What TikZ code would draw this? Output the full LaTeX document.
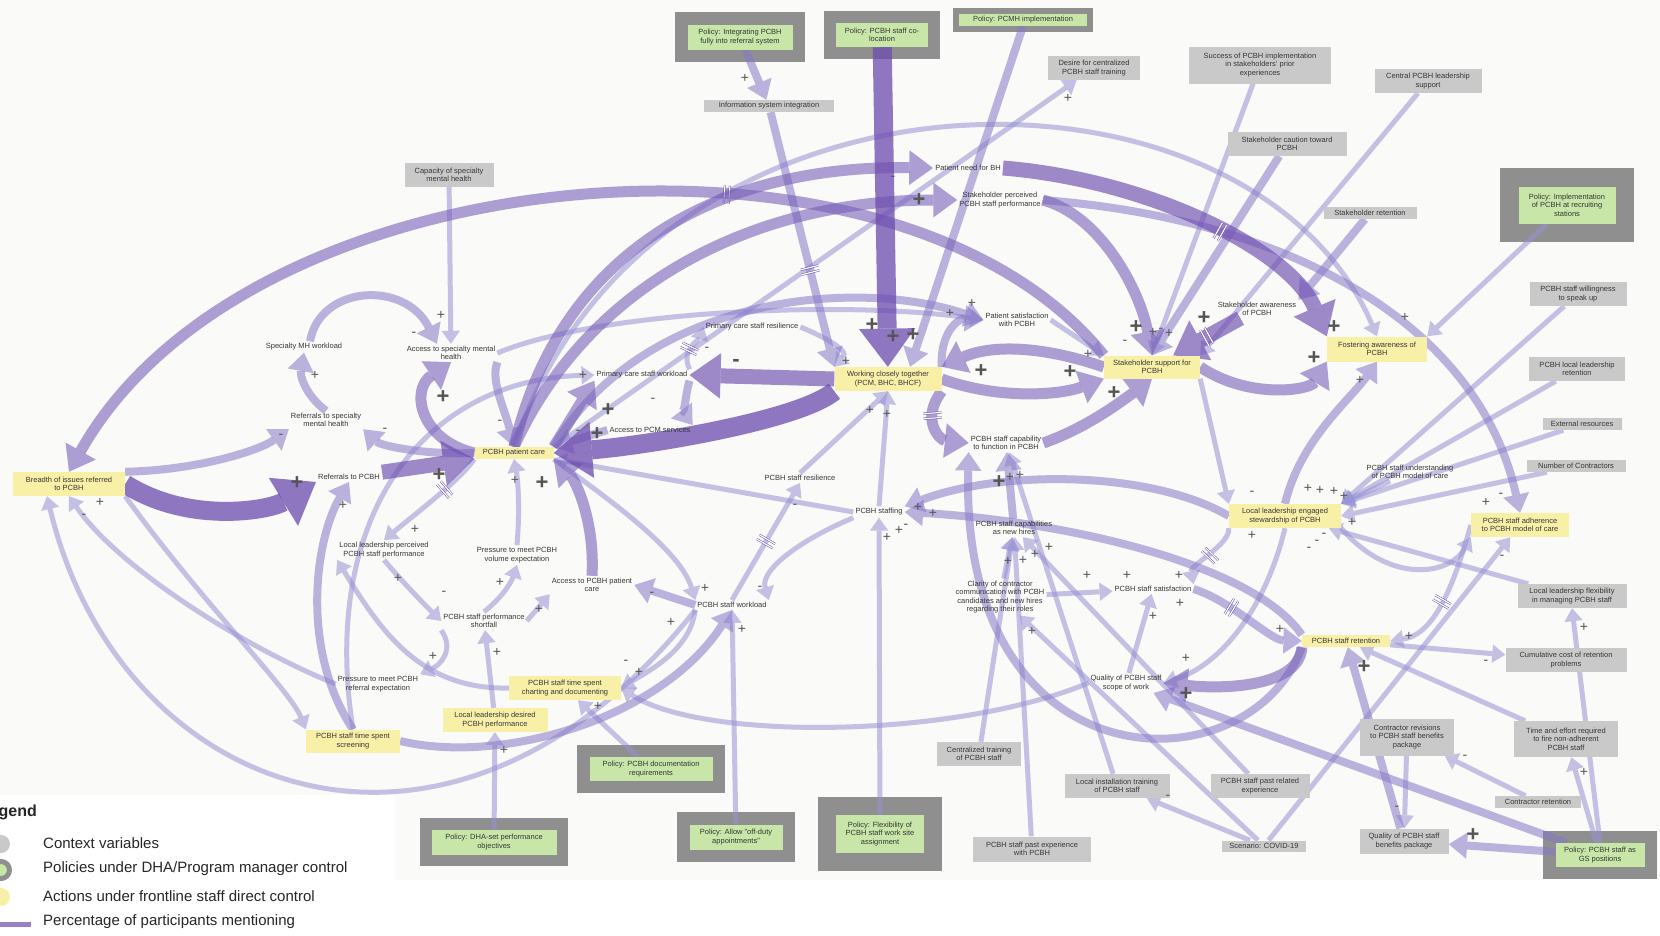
\documentclass[tikz,border=0pt]{standalone}
\usepackage{fontspec}
\setmainfont{Liberation Sans}
\usepackage{tikz}
\usetikzlibrary{arrows.meta,calc,decorations.markings}

\definecolor{ctxgray}{RGB}{201,201,201}
\definecolor{polgray}{RGB}{143,143,143}
\definecolor{polgreen}{RGB}{199,230,168}
\definecolor{actyellow}{RGB}{249,240,168}
\definecolor{txtgray}{RGB}{55,55,55}
\definecolor{sgngray}{RGB}{85,85,85}
\definecolor{lkA}{RGB}{150,145,212}
\definecolor{lkB}{RGB}{135,120,200}
\definecolor{lkC}{RGB}{120,95,185}
\definecolor{lkD}{RGB}{108,75,175}
\definecolor{paper}{RGB}{250,250,248}

\pgfdeclarelayer{bg}
\pgfdeclarelayer{frames}
\pgfdeclarelayer{edges}
\pgfsetlayers{bg,frames,edges,main}

\tikzset{
  varnode/.style={text=txtgray, align=center, inner sep=2pt},
  ctxbox/.style={varnode, fill=ctxgray, inner xsep=5pt, inner ysep=2pt},
  actbox/.style={varnode, fill=actyellow, inner xsep=5pt, inner ysep=2pt},
  polbox/.style={varnode, fill=polgreen, inner xsep=5pt, inner ysep=2pt},
  lnk/.style={-{Triangle[width=5pt 2.7,length=4pt 1.8,line width=0pt]}},
  l1/.style={lnk, color=lkA, line width=5pt, opacity=.55},
  l2/.style={lnk, color=lkB, line width=8pt, opacity=.55},
  l3/.style={lnk, color=lkC, line width=11pt, opacity=.6},
  l4/.style={lnk, color=lkD, line width=15pt, opacity=.65},
  l5/.style={lnk, color=lkD, line width=19pt, opacity=.75},
  delaymk/.style={-, draw=lkD, line width=.5pt, double=white, double distance=1.2pt, opacity=1},
  delaymark/.style={postaction={decorate,decoration={markings,mark=at position #1 with {\draw[delaymk] (-2.5pt,-9pt) -- (-2.5pt,9pt) (2.5pt,-9pt) -- (2.5pt,9pt);}}}},
  sgn/.style={text=sgngray, inner sep=0pt, font=\fontsize{14}{14}\selectfont},
  sgnb/.style={text=sgngray, inner sep=0pt, font=\fontsize{22}{22}\selectfont\bfseries},
  lgtext/.style={anchor=west, text=black!85, inner sep=0pt, font=\fontsize{15}{15}\selectfont},
}

\begin{document}
\begin{tikzpicture}[x=1pt,y=-1pt,font=\fontsize{7.5}{8.5}\selectfont]
\useasboundingbox (0,0) rectangle (1660,935);

% context variables
\node[ctxbox, minimum width=89pt, minimum height=24pt] (capsmh) at (449,175) {Capacity of specialty\\mental health};
\node[ctxbox, minimum width=130pt, minimum height=12pt] (infosys) at (769,106) {Information system integration};
\node[ctxbox, minimum width=92pt, minimum height=24pt] (desire) at (1094,68) {Desire for centralized\\PCBH staff training};
\node[ctxbox, minimum width=142pt, minimum height=37pt] (success) at (1260,65) {Success of PCBH implementation\\in stakeholders' prior\\experiences};
\node[ctxbox, minimum width=107pt, minimum height=24pt] (central) at (1428,81) {Central PCBH leadership\\support};
\node[ctxbox, minimum width=119pt, minimum height=24pt] (caution) at (1287,144) {Stakeholder caution toward\\PCBH};
\node[ctxbox, minimum width=93pt, minimum height=12pt] (shretent) at (1370,213) {Stakeholder retention};
\node[ctxbox, minimum width=97pt, minimum height=24pt] (speakup) at (1578,294) {PCBH staff willingness\\to speak up};
\node[ctxbox, minimum width=96pt, minimum height=24pt] (llretent) at (1577,369) {PCBH local leadership\\retention};
\node[ctxbox, minimum width=79pt, minimum height=12pt] (extres) at (1582,424) {External resources};
\node[ctxbox, minimum width=99pt, minimum height=12pt] (ncontr) at (1576,466) {Number of Contractors};
\node[ctxbox, minimum width=109pt, minimum height=24pt] (llflex) at (1572,596) {Local leadership flexibility\\in managing PCBH staff};
\node[ctxbox, minimum width=121pt, minimum height=24pt] (cumcost) at (1566,660) {Cumulative cost of retention\\problems};
\node[ctxbox, minimum width=94pt, minimum height=37pt] (crevis) at (1407,737) {Contractor revisions\\to PCBH staff benefits\\package};
\node[ctxbox, minimum width=104pt, minimum height=36pt] (timefire) at (1566,739) {Time and effort required\\to fire non-adherent\\PCBH staff};
\node[ctxbox, minimum width=86pt, minimum height=12pt] (cretent) at (1538,802) {Contractor retention};
\node[ctxbox, minimum width=89pt, minimum height=25pt] (qbenef) at (1404,841) {Quality of PCBH staff\\benefits package};
\node[ctxbox, minimum width=84pt, minimum height=11pt] (covid) at (1264,846) {Scenario: COVID-19};
\node[ctxbox, minimum width=99pt, minimum height=24pt] (pastrel) at (1260,786) {PCBH staff past related\\experience};
\node[ctxbox, minimum width=105pt, minimum height=24pt] (localtr) at (1117,786) {Local installation training\\of PCBH staff};
\node[ctxbox, minimum width=84pt, minimum height=24pt] (centtr) at (979,754) {Centralized training\\of PCBH staff};
\node[ctxbox, minimum width=118pt, minimum height=25pt] (pastexp) at (1032,849) {PCBH staff past experience\\with PCBH};

% actions under frontline staff control
\node[actbox, minimum width=112pt, minimum height=24pt] (breadth) at (69,484) {Breadth of issues referred\\to PCBH};
\node[actbox, minimum width=79pt, minimum height=12pt] (pcare) at (514,453) {PCBH patient care};
\node[actbox, minimum width=107pt, minimum height=24pt] (working) at (888,379) {Working closely together\\(PCM, BHC, BHCF)};
\node[actbox, minimum width=96pt, minimum height=23pt] (shsupport) at (1152,367) {Stakeholder support for\\PCBH};
\node[actbox, minimum width=100pt, minimum height=25pt] (fostering) at (1377,349) {Fostering awareness of\\PCBH};
\node[actbox, minimum width=112pt, minimum height=24pt] (llengaged) at (1285,516) {Local leadership engaged\\stewardship of PCBH};
\node[actbox, minimum width=98pt, minimum height=24pt] (adherence) at (1520,525) {PCBH staff adherence\\to PCBH model of care};
\node[actbox, minimum width=88pt, minimum height=12pt] (retention) at (1346,641) {PCBH staff retention};
\node[actbox, minimum width=112pt, minimum height=24pt] (charting) at (565,688) {PCBH staff time spent\\charting and documenting};
\node[actbox, minimum width=105pt, minimum height=24pt] (lldesired) at (495,720) {Local leadership desired\\PCBH performance};
\node[actbox, minimum width=94pt, minimum height=23pt] (screening) at (353,741) {PCBH staff time spent\\screening};

% policies
\node[polbox, minimum width=105pt, minimum height=25pt] (pinteg) at (740,37) {Policy: Integrating PCBH\\fully into referral system};
\node[polbox, minimum width=92pt, minimum height=24pt] (pcoloc) at (882,35) {Policy: PCBH staff co-\\location};
\node[polbox, minimum width=128pt, minimum height=12pt] (ppcmh) at (1023,20) {Policy: PCMH implementation};
\node[polbox, minimum width=97pt, minimum height=37pt] (precruit) at (1567,205) {Policy: Implementation\\of PCBH at recruiting\\stations};
\node[polbox, minimum width=123pt, minimum height=24pt] (pdoc) at (651,769) {Policy: PCBH documentation\\requirements};
\node[polbox, minimum width=125pt, minimum height=25pt] (pdha) at (494,842) {Policy: DHA-set performance\\objectives};
\node[polbox, minimum width=93pt, minimum height=25pt] (poffduty) at (736,837) {Policy: Allow "off-duty\\appointments"};
\node[polbox, minimum width=88pt, minimum height=38pt] (pflex) at (880,834) {Policy: Flexibility of\\PCBH staff work site\\assignment};
\node[polbox, minimum width=89pt, minimum height=24pt] (pgs) at (1600,855) {Policy: PCBH staff as\\GS positions};

% plain variables
\node[varnode] (pneed) at (968,168) {Patient need for BH};
\node[varnode] (shperc) at (1000,200) {Stakeholder perceived\\PCBH staff performance};
\node[varnode] (psatis) at (1017,320) {Patient satisfaction\\with PCBH};
\node[varnode] (shaware) at (1257,309) {Stakeholder awareness\\of PCBH};
\node[varnode] (pcresil) at (752,327) {Primary care staff resilience};
\node[varnode] (pcwork) at (642,375) {Primary care staff workload};
\node[varnode] (pcmacc) at (650,430) {Access to PCM services};
\node[varnode] (smhwork) at (304,347) {Specialty MH workload};
\node[varnode] (smhacc) at (451,353) {Access to specialty mental\\health};
\node[varnode] (refsmh) at (326,420) {Referrals to specialty\\mental health};
\node[varnode] (refpcbh) at (349,477) {Referrals to PCBH};
\node[varnode] (capab) at (1006,443) {PCBH staff capability\\to function in PCBH};
\node[varnode] (resil) at (800,478) {PCBH staff resilience};
\node[varnode] (staffing) at (879,512) {PCBH staffing};
\node[varnode] (understand) at (1410,472) {PCBH staff understanding\\of PCBH model of care};
\node[varnode] (newhires) at (1014,528) {PCBH staff capabilities\\as new hires};
\node[varnode] (llperc) at (384,550) {Local leadership perceived\\PCBH staff performance};
\node[varnode] (pvolume) at (517,555) {Pressure to meet PCBH\\volume expectation};
\node[varnode] (pcbhacc) at (592,585) {Access to PCBH patient\\care};
\node[varnode] (workload) at (732,605) {PCBH staff workload};
\node[varnode] (clarity) at (1000,597) {Clarity of contractor\\communication with PCBH\\candidates and new hires\\regarding their roles};
\node[varnode] (satisf) at (1153,589) {PCBH staff satisfaction};
\node[varnode] (shortfall) at (484,621) {PCBH staff performance\\shortfall};
\node[varnode] (preferral) at (378,684) {Pressure to meet PCBH\\referral expectation};
\node[varnode] (scope) at (1126,683) {Quality of PCBH staff\\scope of work};

% legend
\node[anchor=east, inner sep=0pt, text=black!85, font=\fontsize{16}{16}\selectfont\bfseries] (lgtitle) at (37,812) {Legend};
\node[lgtext] (lgctx) at (43,843) {Context variables};
\node[lgtext] (lgpol) at (43,869) {Policies under DHA/Program manager control};
\node[lgtext] (lgact) at (43,896) {Actions under frontline staff direct control};
\node[lgtext] (lgpct) at (43,922) {Percentage of participants mentioning};
\node[circle, fill=ctxgray, minimum size=18pt, inner sep=0pt] (lgdotctx) at (1,844) {};
\node[circle, fill=polgreen, draw=polgray, line width=5pt, minimum size=17pt, inner sep=0pt] (lgdotpol) at (1,870) {};
\node[circle, fill=actyellow, minimum size=18pt, inner sep=0pt] (lgdotact) at (1,897) {};
\coordinate (lgline0) at (-2,924);
\coordinate (lgline1) at (31,924);
\draw[color=lkD, opacity=.7, line width=5pt] (lgline0) -- (lgline1);

% paper and policy frames
\begin{pgfonlayer}{bg}
\fill[white] (0,0) rectangle (1660,935);
\fill[paper] (0,0) rectangle (1660,880);
\fill[white] (0,795) rectangle (395,935);
\end{pgfonlayer}
\begin{pgfonlayer}{frames}
\foreach \n/\m in {pinteg/12, pcoloc/12, ppcmh/6, precruit/18, pdoc/12, pdha/11, poffduty/12, pflex/18, pgs/12}
  \fill[polgray] ($(\n.south west)+(-\m,\m)$) rectangle ($(\n.north east)+(\m,-\m)$);
\end{pgfonlayer}

\begin{pgfonlayer}{edges}
% thin links
\draw[l1] (pcare.north east) -- (desire);
\draw[l1] (success) -- (shsupport.north);
\draw[l1] (central) -- (shsupport.north east);
\draw[l1] (precruit) -- (fostering.north east);
\draw[l1] (speakup) -- (llengaged.north east);
\draw[l1] (llretent) -- (llengaged.north east);
\draw[l1] (extres) -- (llengaged.north east);
\draw[l1] (ncontr) -- (llengaged.east);
\draw[l1] (understand) -- (llengaged.north east);
\draw[l1] (capsmh) -- (smhacc);
\draw[l1] (pdha) -- (lldesired);
\draw[l1] (lldesired) -- (shortfall);
\draw[l1] (pdoc) -- (charting);
\draw[l1] (poffduty) -- (workload);
\draw[l1] (pflex) -- (staffing);
\draw[l1] (centtr) -- (newhires);
\draw[l1] (pastexp) -- (newhires);
\draw[l1] (localtr) -- (capab);
\draw[l1] (pastrel) -- (newhires);
\draw[l1] (covid) -- (localtr);
\draw[l1] (covid) -- (clarity);
\draw[l1] (covid) -- (adherence);
\draw[l1] (clarity) -- (newhires);
\draw[l1] (clarity) -- (satisf);
\draw[l1] (scope) -- (satisf);
\draw[l1] (retention) -- (cumcost);
\draw[l1] (cretent) -- (crevis);
\draw[l1] (crevis) -- (qbenef);
\draw[l1] (pgs) -- (timefire);
\draw[l1] (pgs.north) -- (llflex.south);
\draw[l1] (llflex) -- (llengaged);
\draw[l1] (timefire) -- (retention);
\draw[l1] (llengaged.south east) .. controls (1390,585) and (1450,575) .. (adherence.south west);
\draw[l1, delaymark=.55] (adherence.west) .. controls (1450,600) and (1430,635) .. (retention.east);
\draw[l1] (shsupport.south east) -- (llengaged.north west);
\draw[l1, delaymark=.5] (llengaged.south west) .. controls (1230,545) and (1190,565) .. (satisf.north east);
\draw[l1] (llengaged.south) .. controls (1265,610) and (1220,665) .. (scope.east);
\draw[l1] (staffing.west) -- (pcare.south east);
\draw[l1, delaymark=.5] (workload.north) -- (resil.south);
\draw[l1] (resil.north) -- (working.south);
\draw[l1] (staffing.north) -- (working.south);
\draw[l1] (staffing.south west) .. controls (800,540) and (760,570) .. (workload.north east);
\draw[l1] (smhacc.east) .. controls (600,310) and (850,300) .. (psatis.west);
\draw[l1] (pcare.north) .. controls (650,40) and (1250,40) .. (fostering.north);
\draw[l1, delaymark=.45] (pcwork.north east) .. controls (680,350) and (700,338) .. (pcresil.west);
\draw[l1] (pcresil.east) .. controls (820,335) and (850,350) .. (working.north west);
\draw[l1] (screening.north) .. controls (320,520) and (420,380) .. (pcwork.west);
\draw[l1] (breadth.south east) .. controls (200,600) and (290,690) .. (screening.north west);
\draw[l1] (preferral.west) .. controls (250,650) and (120,570) .. (breadth.south);
\draw[l1] (workload.south west) .. controls (450,920) and (120,800) .. ([xshift=-22pt]breadth.south);
\draw[l1] (workload.south west) .. controls (690,650) and (650,670) .. (charting.east);
\draw[l1] (scope.west) .. controls (950,740) and (700,740) .. (charting.east);
\draw[l1, delaymark=.35] (pcare.south west) .. controls (460,480) and (420,510) .. (llperc.north);
\draw[l1] (llperc.south) .. controls (405,585) and (430,610) .. (shortfall.west);
\draw[l1] (shortfall.north) .. controls (505,595) and (512,580) .. (pvolume.south);
\draw[l1] (shortfall.east) -- (pcbhacc.south west);
\draw[l1] (pvolume.north) .. controls (520,510) and (518,480) .. (pcare.south);
\draw[l1] (pcare.south east) .. controls (610,500) and (680,550) .. (workload.north west);
\draw[l1] (shortfall.south west) .. controls (455,650) and (440,665) .. (preferral.north east);
\draw[l1] (charting.west) .. controls (420,690) and (380,630) .. (llperc.south west);
\draw[l1] (psatis.east) -- (shsupport.north west);
% medium links
\draw[l2] (pinteg) -- (infosys);
\draw[l2, delaymark=.62] (infosys) -- (working.north west);
\draw[l2] (ppcmh.south) -- ([xshift=22pt]working.north);
\draw[l2] (caution) -- (shsupport.north);
\draw[l2] (shretent) -- (shaware.north east);
\draw[l2] (qbenef) -- (retention);
\draw[l2] (pgs) -- (qbenef);
\draw[l2] (pgs) -- (scope);
\draw[l2] (shperc.east) .. controls (1300,220) and (1480,330) .. (adherence.north);
\draw[l2] (llengaged.north) .. controls (1300,440) and (1350,400) .. (fostering.south);
\draw[l2, delaymark=.35] (satisf.east) .. controls (1230,600) and (1270,640) .. (retention.west);
\draw[l2] (retention.north west) .. controls (1250,560) and (1050,520) .. (staffing.east);
\draw[l2] (llengaged.west) .. controls (1150,470) and (1000,470) .. (staffing.north east);
\draw[l2] (retention.south west) .. controls (1250,790) and (960,790) .. (capab.south west);
\draw[l2] (newhires) -- (capab);
\draw[l2] (breadth.north east) .. controls (200,470) and (260,450) .. (refsmh.south west);
\draw[l2] (refsmh.north) .. controls (305,395) and (300,375) .. (smhwork.south);
\draw[l2] ([xshift=6pt]smhwork.north) .. controls (320,285) and (405,280) .. ([xshift=-14pt]smhacc.north);
\draw[l2] (smhacc.south east) .. controls (490,380) and (505,410) .. (pcare.north);
\draw[l2] (pcare.west) .. controls (420,455) and (380,445) .. (refsmh.south east);
\draw[l2] (pcare.north east) .. controls (640,300) and (850,275) .. (psatis.west);
\draw[l2] (pcwork.south east) .. controls (685,395) and (685,415) .. (pcmacc.north east);
\draw[l2] (pcmacc.west) -- (pcare.north east);
\draw[l2] (screening.north) .. controls (300,650) and (315,540) .. (refpcbh.south);
\draw[l2] (screening.east) .. controls (500,765) and (660,720) .. (workload.south);
\draw[l2] (workload.west) -- (pcbhacc.east);
\draw[l2] (working.north east) .. controls (940,330) and (960,318) .. (psatis.west);
% heavy links
\draw[l3, delaymark=.36] (shsupport.north west) .. controls (900,100) and (250,150) .. (breadth.north);
\draw[l3] (pcare.north) .. controls (560,250) and (720,165) .. (pneed.west);
\draw[l3] (pcare.north) .. controls (590,280) and (760,200) .. (shperc.west);
\draw[l3] (pcare.north east) -- (pcwork.south west);
\draw[l3] (pcare.west) .. controls (420,440) and (410,390) .. (smhacc.south);
\draw[l3] (pcbhacc.north) .. controls (595,520) and (575,480) .. (pcare.south east);
\draw[l3] (retention.south west) .. controls (1300,685) and (1230,690) .. (scope.east);
\draw[l3] (shperc.east) .. controls (1100,215) and (1140,290) .. (shsupport.north);
\draw[l3] (shsupport.east) .. controls (1250,400) and (1310,390) .. (fostering.south west);
\draw[l3] (shsupport.west) .. controls (1040,345) and (990,345) .. (working.north east);
\draw[l3] (working.east) .. controls (1000,400) and (1060,395) .. (shsupport.south west);
\draw[l3, delaymark=.35] (working.south east) .. controls (920,420) and (940,440) .. (capab.west);
\draw[l3] (capab.east) .. controls (1080,430) and (1110,410) .. (shsupport.south);
\draw[l4] (refpcbh) -- (pcare);
\draw[l4, delaymark=.6] (pneed.east) .. controls (1150,180) and (1290,250) .. (fostering.north west);
\draw[l4, delaymark=.5] (shaware) -- (shsupport);
\draw[l4] (working.west) -- (pcwork.east);
\draw[l5] (breadth.east) .. controls (190,525) and (270,510) .. (refpcbh.south west);
\draw[l5] (pcoloc) -- (working);
\draw[l5] (working.south west) .. controls (800,420) and (650,445) .. (pcare.east);
\end{pgfonlayer}

% polarity signs
\foreach \x/\y/\s [count=\i] in {297/483/+, 439/475/+, 443/397/+, 608/410/+, 597/434/+, 542/483/+,
  872/325/+, 893/337/+, 913/335/+, 981/371/+, 1070/372/+, 1136/327/+, 1204/318/+, 1314/358/+,
  1334/327/+, 1114/393/+, 1186/694/+, 1364/667/+, 1473/835/+, 999/482/+, 736/363/-, 919/200/+}
  \node[sgnb] (sb\i) at (\x,\y) {\s};
\foreach \x/\y/\s [count=\i] in {745/78/+, 1068/98/+, 441/315/+, 315/375/+, 100/502/+, 343/505/+,
  415/529/+, 515/480/+, 500/582/+, 539/609/+, 497/652/+, 504/750/+, 598/706/+, 639/672/+,
  742/629/+, 705/588/+, 671/622/+, 433/656/+, 398/578/+, 583/375/+, 846/361/+, 870/410/+,
  887/414/+, 972/303/+, 950/313/+, 1088/354/+, 1153/332/+, 1161/330/-, 1169/333/+, 1125/342/-,
  1360/380/+, 1405/317/+, 1308/488/+, 1320/490/+, 1334/491/+, 1344/496/+,
  1352/522/+, 1252/493/-, 1252/535/+, 1324/535/-, 1317/542/-, 1309/549/-, 1486/502/+,
  1501/495/-, 1502/557/-, 1127/575/+, 1179/575/+, 1180/603/+, 1153/616/+, 1087/575/+,
  1008/561/+, 1023/560/+, 1035/554/+, 1049/547/+, 1032/631/+, 1186/658/+, 1280/629/+,
  1409/636/+, 1486/662/-, 1465/757/-, 1397/808/-, 1584/772/+, 1584/627/+, 1168/797/-,
  414/334/-, 281/436/-, 385/430/-, 500/422/-, 84/516/-, 653/400/-, 578/432/-, 707/349/-,
  893/178/-, 795/506/-, 760/588/-, 652/594/-, 444/593/-, 626/662/-, 887/537/+, 899/530/+,
  906/526/-, 918/507/+, 933/513/+, 1010/477/+, 1020/475/+}
  \node[sgn] (sg\i) at (\x,\y) {\s};
\end{tikzpicture}
\end{document}
